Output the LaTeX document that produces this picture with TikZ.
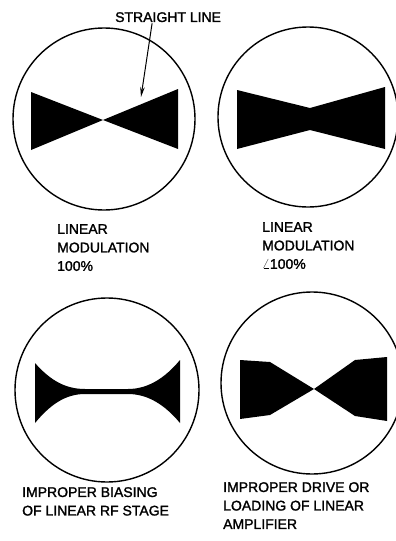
\documentclass[tikz,border=0pt]{standalone}
\usepackage{fontspec}
\setmainfont{Liberation Sans}[AutoFakeBold=1.6]
\usetikzlibrary{arrows.meta}

\begin{document}
\begin{tikzpicture}[x=1pt,y=-1pt,
    screen/.style={line width=1.4pt},
    trace/.style={fill=black},
    caption/.style={anchor=north west, inner sep=0pt, align=left,
        font=\fontsize{14}{18.5}\selectfont\bfseries}]
    \useasboundingbox (0,0) rectangle (396,541);

    % Screens (circles)
    \draw[screen] (104,119) circle (91pt);
    \draw[screen] (308,117) circle (90pt);
    \draw[screen] (107,390) circle (92pt);
    \draw[screen] (312,383) circle (91pt);

    % Linear modulation 100% - sides meet in one point
    \fill[trace] (31,92) -- (103,120) -- (178,89) -- (178,149)
        -- (103,120) -- (31,150) -- cycle;

    % Linear modulation below 100% - narrow waist
    \fill[trace] (237,90) -- (310,108) -- (385,87) -- (385,149)
        -- (310,130) -- (237,149) -- cycle;

    % Improper biasing - curved sides and a thin line in the middle
    \fill[trace] (35,363) .. controls (50,380) and (65,389) .. (85,389)
        -- (128,389) .. controls (148,389) and (165,378) .. (180,360)
        -- (180,423) .. controls (165,405) and (148,394) .. (128,394)
        -- (85,394) .. controls (65,394) and (50,405) .. (35,423) -- cycle;

    % Improper drive or loading - flattened peaks
    \fill[trace] (240,360) -- (270,362) -- (314,389) -- (355,360)
        -- (387,357) -- (387,421) -- (355,416) -- (314,389)
        -- (270,415) -- (240,419) -- cycle;

    % Straight line label and arrow
    \node[caption] (straight) at (115,12) {STRAIGHT LINE};
    \coordinate (edge) at (141,97);
    \draw[line width=1pt, -{Stealth[length=10pt,width=4.5pt]}]
        ([xshift=-16pt,yshift=-1pt]straight.south) -- (edge);

    % Captions
    \node[caption] (linfull) at (57,224) {LINEAR\\MODULATION\\100\%};
    \node[caption] (linless) at (262,222) {LINEAR\\MODULATION\\{\Large$\angle$}100\%};
    \node[caption] (biasing) at (22,487) {IMPROPER BIASING\\OF LINEAR RF STAGE};
    \node[caption] (drive) at (223,482) {IMPROPER DRIVE OR\\LOADING OF LINEAR\\AMPLIFIER};
\end{tikzpicture}
\end{document}
